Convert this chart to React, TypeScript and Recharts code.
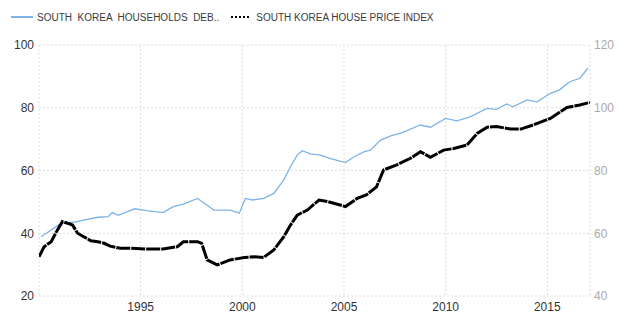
import React from "react";
import { LineChart, Line, XAxis, YAxis, CartesianGrid } from "recharts";

const debtYears = [
  1990.1, 1991.1, 1991.7, 1992.2, 1992.9, 1993.4, 1993.6, 1993.9, 1994.35, 1994.7,
  1995.3, 1996.1, 1996.6, 1997.1, 1997.8, 1998.1, 1998.6, 1999.4, 1999.85, 2000.15,
  2000.5, 2001.05, 2001.55, 2002.04, 2002.37, 2002.7, 2002.95, 2003.35, 2003.85, 2004.3,
  2005.07, 2005.5, 2006.0, 2006.3, 2006.8, 2007.3, 2007.8, 2008.76, 2009.25, 2010.0,
  2010.56, 2011.2, 2012.03, 2012.5, 2013.0, 2013.3, 2014.0, 2014.5, 2015.15, 2015.6,
  2016.1, 2016.6, 2017.0,
];
const debtValues = [
  38.9, 43.2, 43.5, 44.2, 45.1, 45.3, 46.6, 45.7, 46.9, 47.8,
  47.2, 46.6, 48.5, 49.3, 51.1, 49.7, 47.4, 47.4, 46.4, 51.1,
  50.6, 51.1, 52.7, 57.0, 61.2, 64.9, 66.3, 65.3, 64.9, 63.9,
  62.5, 64.4, 66.0, 66.5, 69.7, 71.0, 71.9, 74.5, 73.8, 76.6,
  75.8, 77.1, 79.8, 79.5, 81.2, 80.3, 82.5, 81.9, 84.6, 85.7,
  88.3, 89.4, 92.6,
];

const hpiYears = [
  1990.0, 1990.25, 1990.6, 1990.9, 1991.15, 1991.4, 1991.65, 1991.9, 1992.2, 1992.55,
  1992.9, 1993.2, 1993.5, 1994.0, 1994.5, 1995.3, 1996.1, 1996.8, 1997.1, 1997.8,
  1998.0, 1998.27, 1998.76, 1999.4, 2000.1, 2000.6, 2001.05, 2001.55, 2002.04, 2002.37,
  2002.7, 2003.2, 2003.77, 2004.2, 2005.07, 2005.65, 2006.1, 2006.6, 2006.95, 2007.6,
  2008.27, 2008.76, 2009.25, 2009.9, 2010.4, 2011.05, 2011.55, 2012.04, 2012.5, 2013.2,
  2013.7, 2014.3, 2015.15, 2015.97, 2016.6, 2017.1,
];
const hpiValues = [
  52.5, 55.7, 57.3, 61.0, 63.7, 63.2, 62.6, 60.0, 58.9, 57.6,
  57.3, 56.8, 55.9, 55.2, 55.2, 55.0, 55.0, 55.7, 57.3, 57.3,
  56.8, 51.5, 49.9, 51.5, 52.3, 52.5, 52.3, 54.7, 58.9, 62.6,
  65.8, 67.4, 70.6, 70.1, 68.5, 71.1, 72.2, 74.8, 80.2, 81.8,
  83.9, 86.0, 84.2, 86.5, 87.0, 88.1, 91.8, 93.8, 94.0, 93.2,
  93.2, 94.5, 96.6, 100.1, 100.9, 101.7,
];

const xTicks = [1995, 2000, 2005, 2010, 2015];
const leftTicks = [20, 40, 60, 80, 100];
const rightTicks = [40, 60, 80, 100, 120];
const debtLabel = "SOUTH  KOREA  HOUSEHOLDS  DEB..";
const hpiLabel = "SOUTH KOREA HOUSE PRICE INDEX";

const debtData = debtYears.map((t, i) => ({ t, v: debtValues[i] }));
const hpiData = hpiYears.map((t, i) => ({ t, v: hpiValues[i] }));

const FONT = "'Liberation Sans', Arial, sans-serif";

export default function App() {
  return (
    <div style={{ position: "absolute", left: 0, top: 0, width: 629, height: 326, background: "#fff" }}>
      <div
        style={{
          position: "absolute",
          left: 0,
          top: 10,
          height: 14,
          fontFamily: FONT,
          fontSize: 10,
          color: "#3a3a3a",
          display: "flex",
          alignItems: "center",
          whiteSpace: "pre",
        }}
      >
        <svg width={22} height={4} style={{ marginLeft: 11, marginRight: 4 }}>
          <line x1={0} y1={2} x2={22} y2={2} stroke="#7db3e6" strokeWidth={2} />
        </svg>
        <span>{debtLabel}</span>
        <svg width={20} height={4} style={{ marginLeft: 12, marginRight: 5 }}>
          <line x1={0} y1={2} x2={20} y2={2} stroke="#000" strokeWidth={2} strokeDasharray="2 2" />
        </svg>
        <span>{hpiLabel}</span>
      </div>
      <LineChart width={629} height={326} margin={{ top: 45, right: 0, bottom: 0, left: 0 }}>
        <CartesianGrid
          xAxisId="x"
          yAxisId="left"
          stroke="#dedede"
          strokeDasharray="2 2"
        />
        <XAxis
          xAxisId="x"
          dataKey="t"
          type="number"
          domain={[1990, 2017.1]}
          ticks={xTicks}
          allowDataOverflow
          axisLine={false}
          tickLine={false}
          tickSize={0}
          tickMargin={6}
          height={30}
          tick={{ fill: "#333", fontSize: 12, fontFamily: FONT }}
        />
        <YAxis
          yAxisId="left"
          orientation="left"
          domain={[20, 100]}
          ticks={leftTicks}
          width={39}
          axisLine={false}
          tickLine={false}
          tickSize={0}
          tickMargin={5}
          tick={{ fill: "#333", fontSize: 12, fontFamily: FONT }}
        />
        <YAxis
          yAxisId="right"
          orientation="right"
          domain={[40, 120]}
          ticks={rightTicks}
          width={39}
          axisLine={false}
          tickLine={false}
          tickSize={0}
          tickMargin={4}
          tick={{ fill: "#aaa", fontSize: 12, fontFamily: FONT }}
        />
        <Line
          xAxisId="x"
          yAxisId="left"
          data={debtData}
          dataKey="v"
          type="linear"
          stroke="#7db3e6"
          strokeWidth={1.3}
          dot={false}
          isAnimationActive={false}
        />
        <Line
          xAxisId="x"
          yAxisId="right"
          data={hpiData}
          dataKey="v"
          type="linear"
          stroke="#000"
          strokeWidth={3}
          strokeDasharray="14 1"
          dot={false}
          isAnimationActive={false}
        />
      </LineChart>
    </div>
  );
}
